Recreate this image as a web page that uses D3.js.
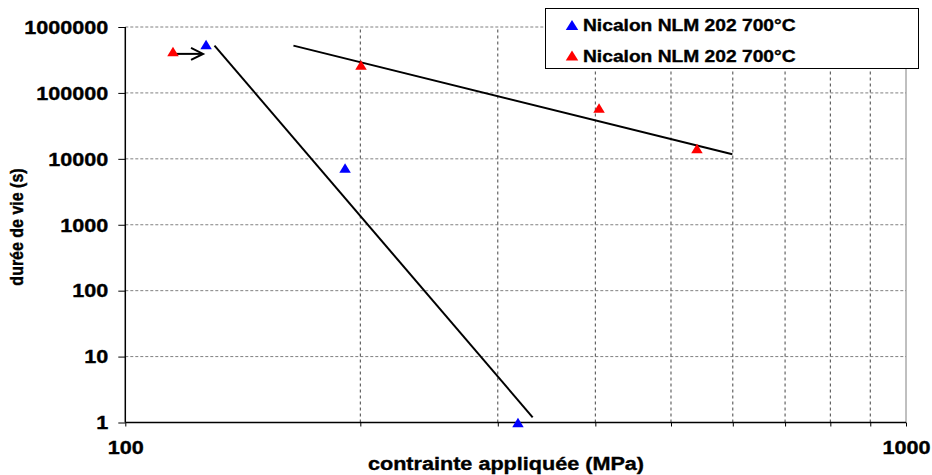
<!DOCTYPE html>
<html><head><meta charset="utf-8">
<script src="https://cdn.jsdelivr.net/npm/d3@7"></script>
<style>
html,body{margin:0;padding:0;background:#fff;}
text{font-family:"Liberation Sans",Arial,sans-serif;font-weight:bold;fill:#000;stroke:#000;stroke-width:0.35px;}
</style></head>
<body><svg id="chart" width="932" height="475"></svg>
<script>
// ---- data ----
const seriesNames = ["Nicalon NLM 202 700°C", "Nicalon NLM 202 700°C"];
const seriesColors = ["#0000ff", "#ff0000"];
const blueStress = [126.9, 191.2, 318.4];
const blueLife   = [544000, 7280, 1];
const redStress  = [115.1, 200.4, 404.4, 539.8];
const redLife    = [426000, 266000, 59200, 14400];
const trend1Stress = [130.1, 332.5];
const trend1Life   = [522000, 1.2];
const trend2Stress = [164.2, 599.2];
const trend2Life   = [522000, 11740];
const arrowStress = [115.4, 125.4];
const arrowLife   = [391000, 391000];
const yTicks = [1, 10, 100, 1000, 10000, 100000, 1000000];
const xTicks = [100, 200, 300, 400, 500, 600, 700, 800, 900, 1000];
const xTickLabels = ["100", "", "", "", "", "", "", "", "", "1000"];
const xTitle = "contrainte appliquée (MPa)";
const yTitle = "durée de vie (s)";

const svg = d3.select("#chart");
const x = d3.scaleLog().domain([100, 1000]).range([125.3, 906]);
const y = d3.scaleLog().domain([1, 1000000]).range([422.5, 27]);
const STRETCH = 1.2;
function stretch(sel){
  sel.each(function(){
    const w = this.getComputedTextLength();
    d3.select(this).attr("textLength", w*STRETCH).attr("lengthAdjust","spacingAndGlyphs");
  });
}

// grid
const grid = svg.append("g");
grid.selectAll("line.h").data(yTicks.slice(1)).enter().append("line")
  .attr("x1", x(100)).attr("x2", x(1000)).attr("y1", d=>y(d)).attr("y2", d=>y(d))
  .attr("stroke", "#808080").attr("stroke-width", 1).attr("stroke-dasharray", "3,2");
grid.selectAll("line.v").data(xTicks.slice(1)).enter().append("line")
  .attr("x1", d=>x(d)).attr("x2", d=>x(d)).attr("y1", y(1)).attr("y2", y(1000000))
  .attr("stroke", d=> d===1000 ? "#808080" : "#444").attr("stroke-width", 1)
  .attr("stroke-dasharray", d=> d===1000 ? null : "3,3");

// axes
const yAxis = svg.append("g").attr("transform", `translate(${x(100)},0)`)
  .call(d3.axisLeft(y).tickValues(yTicks).tickSize(7).tickPadding(10).tickFormat(d3.format("d")));
const xAxis = svg.append("g").attr("transform", `translate(0,${y(1)})`)
  .call(d3.axisBottom(x).tickValues(xTicks).tickSize(4).tickPadding(15).tickFormat((d,i)=>xTickLabels[i]));
[yAxis, xAxis].forEach(a=>{
  a.select(".domain").attr("stroke","#000").attr("stroke-width",1.5);
  a.selectAll(".tick line").attr("stroke","#000").attr("stroke-width",1);
  a.selectAll("text").style("font-size","18px").style("font-family",'"Liberation Sans",Arial,sans-serif').style("font-weight","bold");
});
yAxis.select(".domain").attr("d", `M0,${y(1)}V${y(1000000)}`);
xAxis.select(".domain").attr("d", `M${x(100)},0H${x(1000)}`);
yAxis.selectAll("text").attr("x", -17).attr("dy", "0.35em").call(stretch);
xAxis.selectAll("text").attr("dy", "0.71em").call(stretch);

// titles
svg.append("text").attr("x", 506).attr("y", 470).attr("text-anchor","middle")
  .style("font-size","18px").text(xTitle).call(stretch);
svg.append("text").attr("transform","translate(23,227) rotate(-90) scale(1,1.2)").attr("text-anchor","middle")
  .style("font-size","16px").text(yTitle);

// trend lines
const line = d3.line().x(d=>x(d[0])).y(d=>y(d[1]));
[[trend1Stress, trend1Life],[trend2Stress, trend2Life]].forEach(([s,l])=>{
  svg.append("path").attr("d", line(s.map((v,i)=>[v,l[i]])))
    .attr("fill","none").attr("stroke","#000").attr("stroke-width",2);
});

// arrow
svg.append("path").attr("d", line(arrowStress.map((v,i)=>[v, arrowLife[i]])))
  .attr("stroke","#000").attr("stroke-width",2).attr("fill","none");
svg.append("path")
  .attr("d", `M${x(arrowStress[1])-11},${y(arrowLife[1])-6} L${x(arrowStress[1])+1},${y(arrowLife[1])} L${x(arrowStress[1])-11},${y(arrowLife[1])+6}`)
  .attr("stroke","#000").attr("stroke-width",2).attr("fill","none");

// markers
const tri = (cx,cy,w,h)=>`M${cx},${cy-h/2}L${cx+w/2},${cy+h/2}L${cx-w/2},${cy+h/2}Z`;
function drawSeries(xs, ys, color){
  svg.append("g").selectAll("path").data(xs.map((v,i)=>[v, ys[i]])).enter().append("path")
    .attr("d", d=>tri(x(d[0]), y(d[1]), 11.5, 9.5)).attr("fill", color);
}
drawSeries(blueStress, blueLife, seriesColors[0]);
drawSeries(redStress, redLife, seriesColors[1]);

// legend
const lg = svg.append("g");
lg.append("rect").attr("x",545.5).attr("y",8.5).attr("width",373).attr("height",60)
  .attr("fill","#fff").attr("stroke","#000").attr("stroke-width",1);
seriesNames.forEach((n,i)=>{
  const cy = 25 + i*30.5;
  lg.append("path").attr("d", tri(572, cy, 12.5, 10)).attr("fill", seriesColors[i]);
  lg.append("text").attr("x",583).attr("y",cy+6).style("font-size","16px").text(n).call(stretch);
});
</script></body></html>
